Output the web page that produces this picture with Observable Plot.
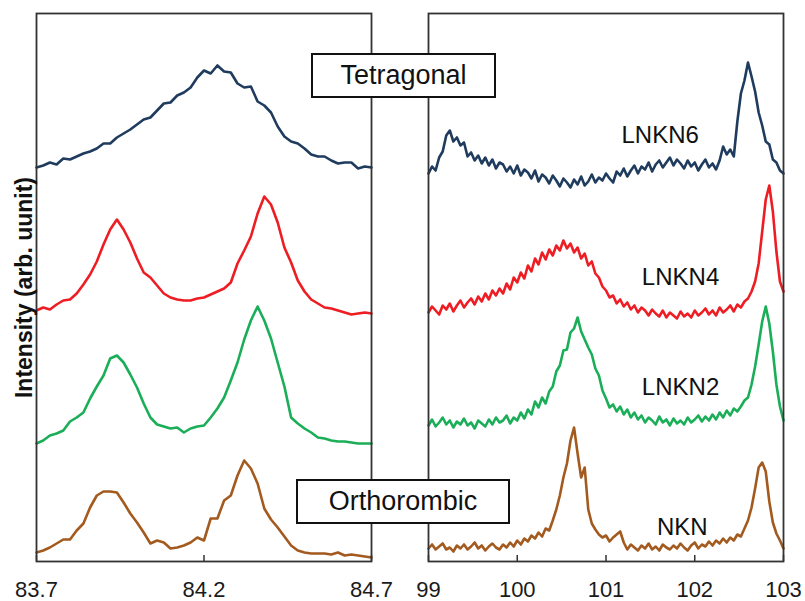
<!DOCTYPE html>
<html>
<head>
<meta charset="utf-8">
<script src="https://cdn.jsdelivr.net/npm/d3@7"></script>
<script src="https://cdn.jsdelivr.net/npm/@observablehq/plot@0.6"></script>
<style>
  html, body { margin: 0; padding: 0; background: #fff; }
  #chart { position: relative; width: 805px; height: 601px; font-family: "Liberation Sans", Arial, sans-serif; }
  #chart svg { position: absolute; top: 0; overflow: visible; }
  .phase { position: absolute; box-sizing: border-box; background: #fff; border: 2px solid #111;
           font-size: 27px; color: #111; display: flex; align-items: center; justify-content: center; z-index: 2; }
</style>
</head>
<body>
<div id="chart"></div>
<script>
// Series, from top to bottom of the stack
const series = ["LNKN6", "LNKN4", "LNKN2", "NKN"];
const colors = ["#1F3B5E", "#EE1D23", "#1BAE58", "#A35A1F"];

// Left window: 2θ 83.70–84.70°, step 0.02° (stacked intensity, arb. unit)
const leftStart = 83.7, leftStep = 0.02;
const leftLNKN6 = [394,396,399,397,403,402,405,408,410,413,418,418,424,428,432,437,442,444,451,458,459,466,469,474,484,491,488,496,490,489,478,474,475,460,456,449,435,425,420,418,413,407,405,405,401,398,399,399,393,395,394];
const leftLNKN4 = [251,254,252,257,261,262,268,277,287,300,317,332,342,332,319,303,289,284,276,268,264,262,261,261,263,264,267,270,273,279,298,311,325,348,365,357,339,314,299,281,270,262,258,254,253,251,249,247,248,249,248];
const leftLNKN2 = [118,121,126,128,131,140,144,149,163,175,186,203,206,199,187,174,158,144,137,135,133,134,129,133,135,136,144,153,164,181,199,222,241,255,241,223,199,175,144,138,133,129,124,123,121,120,120,119,118,118,118];
const leftNKN   = [9,11,14,18,22,22,31,38,54,66,70,70,69,59,48,39,29,18,21,19,13,14,16,19,24,21,43,43,61,66,86,101,93,78,53,42,34,25,16,11,9,8,8,8,7,9,6,7,6,5,4];

// Right window: 2θ 99–103°, step 0.04° (stacked intensity, arb. unit)
const rightStart = 99, rightStep = 0.04;
const rightLNKN6 = [388,395,391,404,410,426,431,420,424,416, 419,405,409,401,406,398,404,396,402,393, 399,397,390,395,388,396,386,392,389,383, 391,380,387,384,378,386,381,375,383,379, 374,382,377,385,376,380,387,379,384,381, 388,383,379,390,386,393,385,391,396,388, 395,392,399,390,397,401,394,399,404,396, 402,398,393,401,395,399,391,397,402,394, 398,392,401,415,407,412,405,440,468,481, 499,485,470,449,436,420,417,402,399,391,388];
const rightLNKN4 = [249,255,251,247,256,252,258,250,256,261, 254,259,263,257,265,260,268,262,271,266, 273,268,278,272,284,279,289,283,296,290, 303,297,309,302,312,306,316,311,321,313, 318,309,314,303,308,296,300,288,284,275, 271,264,266,258,262,255,259,252,256,249, 254,251,246,252,248,245,251,244,249,246, 243,250,245,248,244,251,246,249,253,247, 251,246,254,249,252,256,250,257,254,260, 263,270,280,298,330,362,376,350,310,280,270];
const rightLNKN2 = [136,142,135,139,144,137,141,134,140,137, 143,136,139,133,141,138,135,142,137,144, 139,141,146,138,144,141,149,143,152,147, 160,154,164,158,170,175,190,196,211,212, 229,233,244,230,222,214,207,193,186,171, 163,154,157,150,155,147,152,144,149,142, 146,139,144,141,137,145,139,142,136,143, 138,141,137,144,139,142,146,140,145,141, 147,142,149,144,151,146,153,150,155,161, 164,177,195,217,240,255,238,210,177,155,141];
const rightNKN   = [13,17,12,15,18,12,14,10,16,13, 17,12,15,19,13,16,11,15,18,14, 12,17,14,19,15,21,17,23,20,26, 23,29,25,33,31,41,52,66,84,98, 121,134,108,84,94,52,38,32,27,24, 26,20,24,27,30,19,12,17,14,11, 16,13,18,12,15,11,17,14,12,16, 13,18,14,11,16,19,13,17,15,20, 16,21,18,23,19,24,21,27,25,33, 41,54,73,94,99,90,60,39,28,21,13];

const leftTicks = [83.7, 84.2, 84.7];
const rightTicks = [99, 100, 101, 102, 103];
const yLabel = "Intensity (arb. uunit)";
const phases = ["Tetragonal", "Orthorombic"];

// Build long-format rows from a start angle, step and intensity list
function rows(start, step, lists) {
  return lists.flatMap((vals, s) =>
    vals.map((v, i) => ({series: series[s], x: +(start + i * step).toFixed(3), y: v})));
}
const leftData = rows(leftStart, leftStep, [leftLNKN6, leftLNKN4, leftLNKN2, leftNKN]);
const rightData = rows(rightStart, rightStep, [rightLNKN6, rightLNKN4, rightLNKN2, rightNKN]);

const font = '"Liberation Sans", Arial, sans-serif';
const H = 601, yDomain = [0, 548];
const color = {domain: series, range: colors};

function panel({width, marginLeft, marginRight, domain, ticks, format, data, extra}) {
  return Plot.plot({
    width, height: H,
    marginLeft, marginRight, marginTop: 13, marginBottom: 40,
    x: {domain, ticks},
    y: {domain: yDomain, axis: null},
    color,
    style: {fontFamily: font, fontSize: "22px", background: "transparent", color: "#1a1a1a"},
    marks: [
      Plot.line(data, {x: "x", y: "y", z: "series", stroke: "series", strokeWidth: 2.6, strokeLinejoin: "round"}),
      Plot.axisX({ticks, tickFormat: format, tickSize: -6, tickPadding: 26, stroke: "#333", strokeWidth: 1.5, label: null}),
      Plot.frame({stroke: "#333", strokeWidth: 1.8}),
      ...(extra || [])
    ]
  });
}

const left = panel({
  width: 400, marginLeft: 36, marginRight: 29,
  domain: [83.7, 84.7], ticks: leftTicks, format: d3.format(".1f"), data: leftData,
  extra: [
    Plot.text([yLabel], {text: d => d, frameAnchor: "left", rotate: -90, dx: -5,
      lineAnchor: "bottom", textAnchor: "middle", fontWeight: "bold", fontSize: 23, fill: "#111"})
  ]
});

// Series names sit inside the right window, centred between the curves
const labelAt = [[101.61, 426], [101.84, 284], [101.84, 174], [101.86, 34]];
const right = panel({
  width: 405, marginLeft: 28, marginRight: 22,
  domain: [99, 103], ticks: rightTicks, format: d => String(d), data: rightData,
  extra: [
    Plot.text(series, {x: (d, i) => labelAt[i][0], y: (d, i) => labelAt[i][1], text: d => d,
      fontSize: 24, fill: "#111", textAnchor: "middle", lineAnchor: "middle"})
  ]
});

const chart = document.getElementById("chart");
left.style.left = "0px";
right.style.left = "400px";
chart.append(left, right);

// Phase boxes straddle the gap between the two windows
const boxes = [
  {text: phases[0], left: 311, top: 53, width: 185, height: 45},
  {text: phases[1], left: 296, top: 479, width: 214, height: 45}
];
for (const b of boxes) {
  const div = document.createElement("div");
  div.className = "phase";
  div.textContent = b.text;
  Object.assign(div.style, {left: b.left + "px", top: b.top + "px", width: b.width + "px", height: b.height + "px"});
  chart.append(div);
}
</script>
</body>
</html>
